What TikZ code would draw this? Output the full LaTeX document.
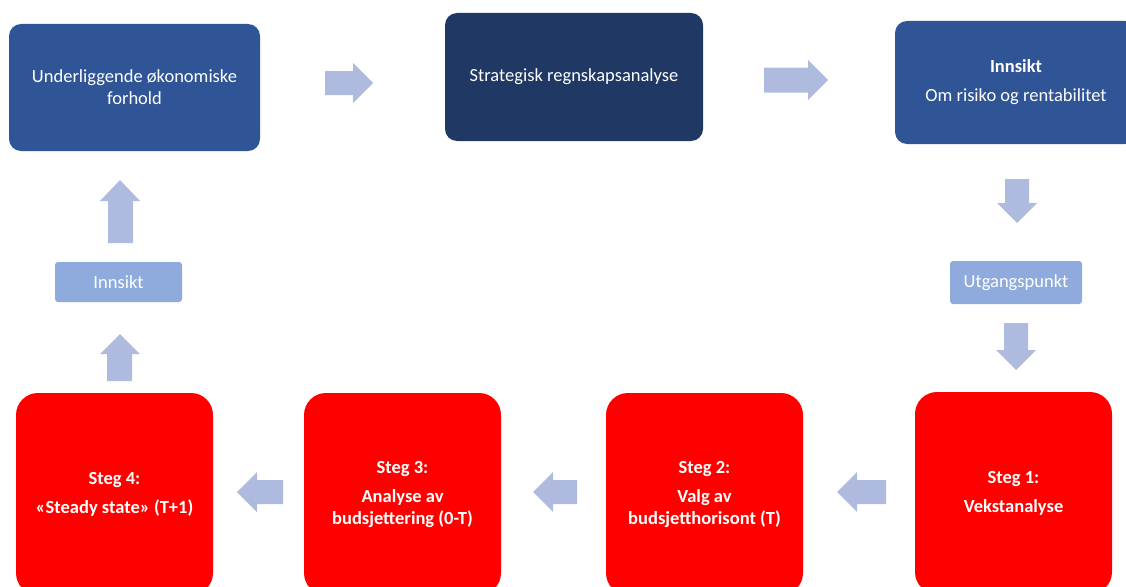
\documentclass[tikz,border=0pt]{standalone}
\usepackage{fontspec}
\setmainfont{Carlito}
\definecolor{blueA}{HTML}{2F5597}
\definecolor{blueB}{HTML}{203864}
\definecolor{lightbox}{HTML}{8FAADC}
\definecolor{arrowfill}{RGB}{174,187,222}
\definecolor{redbox}{HTML}{FF0000}
\begin{document}
\begin{tikzpicture}[x=1pt,y=-1pt,
  topbox/.style={draw=none, text=white, align=center, rounded corners=12pt, inner sep=0pt, font=\fontsize{18.5}{22}\selectfont},
  smallbox/.style={draw=none, fill=lightbox, text=white, align=center, rounded corners=3pt, inner sep=0pt, font=\fontsize{18.5}{22}\selectfont},
  redstep/.style={draw=none, fill=redbox, text=white, align=center, rounded corners=22pt, inner sep=0pt, minimum width=197pt, minimum height=202pt, font=\bfseries\fontsize{18.5}{22}\selectfont},
  blockarrow/.style={fill=arrowfill, draw=none}]
\useasboundingbox (0,0) rectangle (1126,586);
\clip (0,0) rectangle (1126,586);

% top row
\node[topbox, fill=blueA, minimum width=251pt, minimum height=127pt] (under) at (134.5,87.5) {Underliggende økonomiske\\forhold};
\node[topbox, fill=blueB, minimum width=258pt, minimum height=128pt] (strat) at (574,77) {Strategisk regnskapsanalyse};
\node[topbox, fill=blueA, minimum width=242pt, minimum height=123pt] (innsiktR) at (1016,82.5) {\textbf{Innsikt}\\[7pt]Om risiko og rentabilitet};

% small boxes
\node[smallbox, minimum width=127pt, minimum height=40pt] (innsiktL) at (118.5,282) {Innsikt};
\node[smallbox, minimum width=132pt, minimum height=43pt] (utg) at (1016,282.5) {Utgangspunkt};

% red steps
\node[redstep] (s4) at (114.5,494) {Steg 4:\\[7pt]«Steady state» (T+1)};
\node[redstep] (s3) at (402.5,494) {Steg 3:\\[7pt]Analyse av\\budsjettering (0-T)};
\node[redstep] (s2) at (704.5,494) {Steg 2:\\[7pt]Valg av\\budsjetthorisont (T)};
\node[redstep] (s1) at (1013.5,493) {Steg 1:\\[7pt]Vekstanalyse};

% block arrows: right
\fill[blockarrow] (325,71)--(353,71)--(353,63)--(373,83)--(353,103)--(353,95)--(325,95)--cycle;
\fill[blockarrow] (764,67.5)--(808,67.5)--(808,60)--(828,80)--(808,100)--(808,92.5)--(764,92.5)--cycle;
% down
\fill[blockarrow] (1005,179)--(1029,179)--(1029,203)--(1037,203)--(1017,223)--(997,203)--(1005,203)--cycle;
\fill[blockarrow] (1004,323)--(1028,323)--(1028,350)--(1036,350)--(1016,370)--(996,350)--(1004,350)--cycle;
% up
\fill[blockarrow] (120,180)--(140,201)--(133,201)--(133,243)--(108,243)--(108,201)--(100,201)--cycle;
\fill[blockarrow] (120,334)--(140,354)--(132,354)--(132,381)--(107,381)--(107,354)--(100,354)--cycle;
% left
\fill[blockarrow] (237,492)--(257,472)--(257,480)--(283,480)--(283,504)--(257,504)--(257,512)--cycle;
\fill[blockarrow] (533,492)--(553,472)--(553,480)--(577,480)--(577,504)--(553,504)--(553,512)--cycle;
\fill[blockarrow] (837,492)--(857,472)--(857,480)--(886,480)--(886,504)--(857,504)--(857,512)--cycle;
\end{tikzpicture}
\end{document}
